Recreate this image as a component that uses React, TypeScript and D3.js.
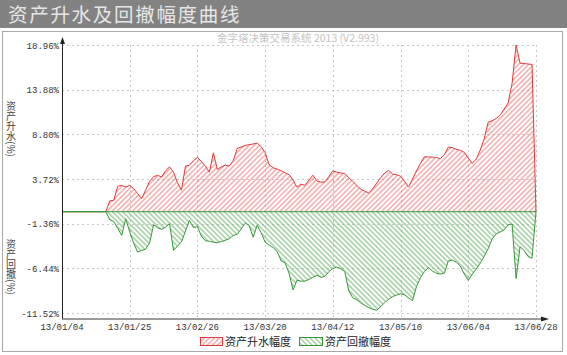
import React from 'react';
import * as d3 from 'd3';

// x tick labels (every 17 trading days)
const dateLabels = ['13/01/04', '13/01/25', '13/02/26', '13/03/20', '13/04/12', '13/05/10', '13/06/04', '13/06/28'];
const tickStep = 17;

// y ticks (%)
const yTicks = [18.96, 13.88, 8.8, 3.72, -1.36, -6.44, -11.52];

// 资产升水幅度 (%)
const riseValues = [
  0, 0, 0, 0, 0, 0, 0, 0, 0, 0,
  0, 0, 1.24, 1.3, 2.9, 3.0, 2.8, 3.0, 2.63, 2.06,
  1.5, 2.47, 3.45, 4.0, 4.13, 3.96, 4.65, 5.1, 4.5, 3.3,
  2.45, 5.2, 5.3, 5.8, 6.2, 5.7, 5.2, 4.5, 6.7, 4.8,
  5.1, 5.3, 5.2, 5.8, 7.2, 7.37, 7.54, 7.63, 7.7, 7.8,
  7.4, 6.7, 5.35, 5.0, 4.84, 4.67, 4.44, 4.2, 3.6, 2.8,
  3.13, 3.0, 3.6, 4.15, 3.5, 3.36, 3.4, 4.0, 4.65, 4.5,
  4.4, 4.35, 3.87, 3.45, 3.0, 2.56, 2.33, 2.15, 2.6, 3.25,
  3.87, 4.38, 4.7, 4.27, 4.2, 4.04, 3.47, 2.8, 3.7, 4.67,
  5.5, 6.25, 6.23, 6.2, 6.17, 6.03, 6.5, 7.35, 7.3, 7.08,
  7.0, 6.75, 6.1, 5.5, 6.0, 7.0, 8.3, 10.2, 10.34, 10.6,
  11.0, 11.67, 12.36, 14.6, 18.96, 16.9, 16.85, 16.8, 16.75, 0,
];

// 资产回撤幅度 (%)
const drawdownValues = [
  0, 0, 0, 0, 0, 0, 0, 0, 0, 0,
  0, 0, -0.92, -1.12, -1.9, -2.7, -0.8, -2.3, -3.6, -4.6,
  -4.4, -4.25, -3.55, -1.5, -1.83, -2.0, -1.77, -1.35, -4.4, -3.9,
  -3.45, -2.2, -1.0, -1.8, -1.7, -2.8, -3.3, -3.36, -3.47, -3.53,
  -3.4, -3.25, -3.08, -2.7, -2.56, -1.96, -1.28, -1.6, -2.9, -1.54,
  -2.4, -3.47, -3.8, -4.1, -4.5, -5.58, -5.8, -7.0, -8.9, -7.8,
  -7.9, -7.9, -7.7, -7.46, -7.23, -7.46, -7.35, -6.83, -6.45, -6.3,
  -6.49, -6.83, -9.0, -9.8, -10.0, -10.36, -10.65, -10.9, -11.1, -11.2,
  -10.8, -10.34, -9.97, -9.66, -9.48, -9.34, -9.45, -9.8, -10.1, -8.5,
  -7.5, -6.8, -6.36, -6.75, -7.0, -7.1, -6.98, -5.6, -5.5, -5.75,
  -6.18, -7.1, -7.8, -7.1, -6.5, -5.86, -5.07, -4.2, -3.1, -2.53,
  -2.3, -2.07, -1.5, -1.4, -7.6, -4.0, -4.4, -5.1, -5.3, 0,
];

const W = 567;
const H = 355;
const RED = '#e23a3a';
const GREEN = '#3a963a';
const cjk = '"Noto Sans CJK SC", sans-serif';
const mono = '"Liberation Mono", monospace';

export default function App() {
  const n = riseValues.length;
  const x = d3.scaleLinear().domain([0, n - 1]).range([62, 536]);
  const y = d3.scaleLinear().domain([-11.52, 18.96]).range([313, 45]);
  const axisY = 319;

  const area = d3.area<number>().x((_, i) => x(i)).y0(y(0)).y1((d) => y(d));
  const line = d3.line<number>().x((_, i) => x(i)).y((d) => y(d));

  const xTickIdx = dateLabels.map((_, i) => i * tickStep);

  return (
    <div style={{ position: 'fixed', left: 0, top: 0 }}>
      <svg width={W} height={H} style={{ display: 'block', background: '#fff' }}>
        <defs>
          <pattern id="hatchRed" width="3.6" height="3.6" patternUnits="userSpaceOnUse" patternTransform="rotate(45)">
            <line x1="1.8" y1="0" x2="1.8" y2="3.6" stroke="#ec7272" strokeWidth="0.9" />
          </pattern>
          <pattern id="hatchGreen" width="3.6" height="3.6" patternUnits="userSpaceOnUse" patternTransform="rotate(-45)">
            <line x1="1.8" y1="0" x2="1.8" y2="3.6" stroke="#5fae5f" strokeWidth="0.9" />
          </pattern>
        </defs>

        {/* title bar */}
        <rect x={0} y={0} width={W} height={28} fill="#828282" />
        <text x={8} y={22} fontSize={19.5} fontFamily={cjk} fill="#e6e6e6" letterSpacing={1.7}>
          资产升水及回撤幅度曲线
        </text>

        {/* panel */}
        <rect x={2.5} y={31.5} width={560} height={320} fill="#fff" stroke="#a8a8a8" />

        {/* watermark */}
        <text x={298} y={42} textAnchor="middle" fontSize={10.5} fontFamily={cjk} fill="#c4c4c4">
          金字塔决策交易系统 2013 (V2.993)
        </text>

        {/* grid */}
        {yTicks.map((t) => (
          <line key={'gy' + t} x1={62} x2={536} y1={Math.round(y(t)) + 0.5} y2={Math.round(y(t)) + 0.5}
            stroke="#c8c8c8" strokeDasharray="2,3" />
        ))}
        {xTickIdx.slice(1).map((i) => (
          <line key={'gx' + i} x1={Math.round(x(i)) + 0.5} x2={Math.round(x(i)) + 0.5} y1={45} y2={axisY}
            stroke="#c8c8c8" strokeDasharray="2,3" />
        ))}

        {/* areas */}
        <path d={area(riseValues) || ''} fill="url(#hatchRed)" />
        <path d={area(drawdownValues) || ''} fill="url(#hatchGreen)" />
        <path d={line(riseValues) || ''} fill="none" stroke={RED} strokeWidth={1} />
        <path d={line(drawdownValues) || ''} fill="none" stroke={GREEN} strokeWidth={1} />
        <line x1={62} x2={536} y1={y(0)} y2={y(0)} stroke={GREEN} strokeWidth={1} />

        {/* axes */}
        <line x1={62.5} x2={62.5} y1={axisY} y2={40} stroke="#222" />
        <path d="M62.5,37 L60,44 L65,44 Z" fill="#222" />
        <line x1={62} x2={545} y1={axisY} y2={axisY} stroke="#7a7a7a" strokeWidth={1.5} />
        <path d="M549,319 L541,316.5 L541,321.5 Z" fill="#222" />

        {/* y tick labels */}
        {yTicks.map((t) => (
          <text key={'ly' + t} x={59} y={y(t) + 3.5} textAnchor="end" fontSize={9} fontFamily={mono} fill="#333">
            {t.toFixed(2) + '%'}
          </text>
        ))}

        {/* x tick labels */}
        {xTickIdx.map((i, k) => (
          <text key={'lx' + i} x={x(i)} y={330} textAnchor="middle" fontSize={9} fontFamily={mono} fill="#333">
            {dateLabels[k]}
          </text>
        ))}

        {/* vertical axis titles */}
        <text x={11} y={101} fontSize={10} fontFamily={cjk} fill="#444" style={{ writingMode: 'vertical-rl' }}>
          资产升水(%)
        </text>
        <text x={11} y={239} fontSize={10} fontFamily={cjk} fill="#444" style={{ writingMode: 'vertical-rl' }}>
          资产回撤(%)
        </text>

        {/* legend */}
        <rect x={200.5} y={337.5} width={22} height={8} fill="url(#hatchRed)" stroke={RED} />
        <text x={225} y={345.5} fontSize={11} fontFamily={cjk} fill="#222">资产升水幅度</text>
        <rect x={299.5} y={337.5} width={23} height={8} fill="url(#hatchGreen)" stroke={GREEN} />
        <text x={325} y={345.5} fontSize={11} fontFamily={cjk} fill="#222">资产回撤幅度</text>
      </svg>
    </div>
  );
}
